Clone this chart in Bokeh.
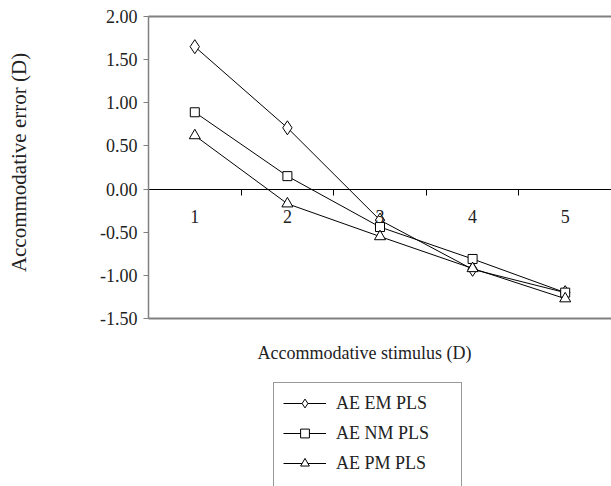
from bokeh.plotting import figure
from bokeh.models import (LinearAxis, FixedTicker, NumeralTickFormatter, Legend,
                          LegendItem, Range1d, Label)
from bokeh.embed import file_html
from bokeh.resources import INLINE
import numpy as np

stimulus = [1, 2, 3, 4, 5]
tick_labels_y = [-1.5, -1.0, -0.5, 0.0, 0.5, 1.0, 1.5, 2.0]
ae_em = [1.65, 0.71, -0.36, -0.93, -1.20]
ae_nm = [0.89, 0.15, -0.44, -0.81, -1.20]
ae_pm = [0.62, -0.17, -0.55, -0.92, -1.27]

FONT = "Liberation Serif"
TXT = "#222222"
GRAY = "#808080"

# layout (pixels)
W, H = 611, 486
PLOT_L, PLOT_T, PLOT_B = 148, 16, 318
X0, X1 = 0.5, 5.5
Y0, Y1 = -1.5, 2.0
ppx = (W - PLOT_L) / (X1 - X0)
ppu = (PLOT_B - PLOT_T) / (Y1 - Y0)
x_start = X0 - PLOT_L / ppx
y_end = Y1 + PLOT_T / ppu
y_start = Y0 - (H - PLOT_B) / ppu


def px_x(px):
    return x_start + px / ppx


def px_y(py):
    return y_end - py / ppu


p = figure(width=W, height=H, x_range=Range1d(x_start, X1), y_range=Range1d(y_start, y_end),
           output_backend="svg", toolbar_location=None,
           x_axis_type=None, y_axis_type=None,
           min_border_left=0, min_border_right=0, min_border_top=0, min_border_bottom=0)
p.outline_line_color = None
p.xgrid.visible = False
p.ygrid.visible = False
p.background_fill_color = "white"
p.border_fill_color = "white"

# y axis
yax = LinearAxis(fixed_location=X0, bounds=(Y0, Y1),
                 ticker=FixedTicker(ticks=tick_labels_y, minor_ticks=[]),
                 formatter=NumeralTickFormatter(format="0.00"))
yax.axis_line_color = GRAY
yax.axis_line_width = 1.5
yax.major_tick_line_color = GRAY
yax.major_tick_out = 5
yax.major_tick_in = 0
yax.major_label_standoff = 6
yax.major_label_text_font = FONT
yax.major_label_text_font_size = "18px"
yax.major_label_text_color = TXT
p.add_layout(yax, "left")

# top and bottom lines of the plot area
for loc, side in ((Y1, "above"), (Y0, "below")):
    fax = LinearAxis(fixed_location=loc, bounds=(X0, X1),
                     ticker=FixedTicker(ticks=[], minor_ticks=[]))
    fax.axis_line_color = GRAY
    fax.axis_line_width = 2
    fax.major_tick_line_color = None
    fax.minor_tick_line_color = None
    fax.major_label_text_font_size = "0px"
    p.add_layout(fax, side)

# x axis at zero
xax = LinearAxis(fixed_location=0, bounds=(X0, X1),
                 ticker=FixedTicker(ticks=stimulus, minor_ticks=[1.5, 2.5, 3.5, 4.5]))
xax.axis_line_color = "black"
xax.axis_line_width = 1
xax.major_tick_line_color = None
xax.major_tick_out = 0
xax.major_tick_in = 0
xax.minor_tick_line_color = "black"
xax.minor_tick_out = 6
xax.minor_tick_in = 0
xax.major_label_standoff = 15
xax.major_label_text_font = FONT
xax.major_label_text_font_size = "18px"
xax.major_label_text_color = TXT
p.add_layout(xax, "below")

# axis titles
p.add_layout(Label(x=px_x(364), y=px_y(352), text="Accommodative stimulus (D)",
                   text_align="center", text_baseline="middle",
                   text_font=FONT, text_font_size="18px", text_color=TXT))
p.add_layout(Label(x=px_x(18), y=px_y(162), text="Accommodative error (D)", angle=np.pi / 2,
                   text_align="center", text_baseline="middle",
                   text_font=FONT, text_font_size="21px", text_color=TXT))

items = []
specs = [("AE EM PLS", ae_em, dict(marker="diamond", size=14)),
         ("AE NM PLS", ae_nm, dict(marker="square", size=9)),
         ("AE PM PLS", ae_pm, dict(marker="triangle", size=11))]
for label, vals, mk in specs:
    lr = p.line(stimulus, vals, line_color="black", line_width=1)
    sr = p.scatter(stimulus, vals, fill_color="white", line_color="black", line_width=1, **mk)
    items.append(LegendItem(label=label, renderers=[lr, sr]))

# blank spacer row: the legend box continues past the bottom edge, as in the source
spacer = p.line([], [], line_alpha=0)
items.append(LegendItem(label=" ", renderers=[spacer]))

LEG_L, LEG_T = 273, 384
ROW_H = 22
legend = Legend(items=items)
legend.label_text_font = FONT
legend.label_text_font_size = "18px"
legend.label_text_color = TXT
legend.glyph_width = 43
legend.glyph_height = ROW_H
legend.label_height = ROW_H
legend.label_width = 116
legend.label_standoff = 10
legend.spacing = 8
legend.padding = 9
legend.margin = 0
legend.border_line_color = "#333333"
legend.border_line_width = 1
legend.background_fill_alpha = 1
leg_h = 2 * legend.padding + len(items) * ROW_H + (len(items) - 1) * legend.spacing
legend.location = (LEG_L, H - LEG_T - leg_h)
p.add_layout(legend, "center")

open("out.html", "w").write(file_html(p, INLINE))
